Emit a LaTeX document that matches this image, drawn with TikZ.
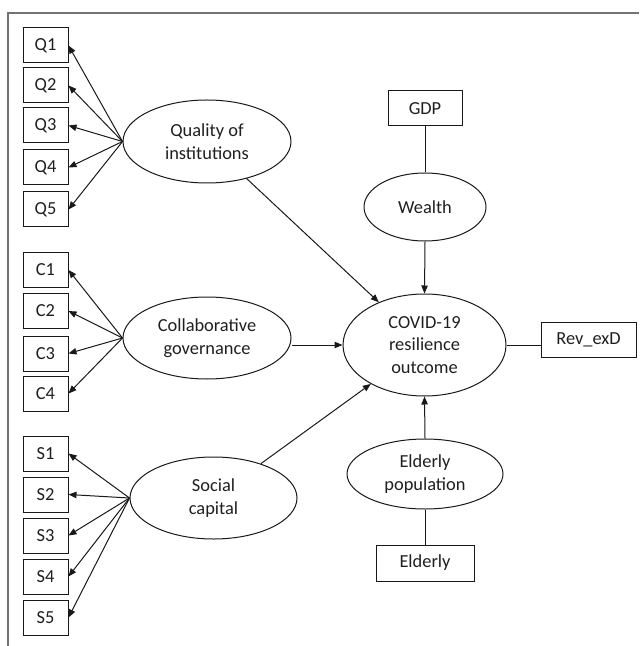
\documentclass[tikz,border=0pt]{standalone}
\usepackage{fontspec}
\setmainfont{Carlito}
\usetikzlibrary{shapes.geometric,arrows.meta}
\begin{document}
\begin{tikzpicture}[x=0.5pt,y=-0.5pt,
  every node/.style={font=\fontsize{9.2pt}{11.2pt}\selectfont, text=black!88, inner sep=0pt},
  ind/.style={draw=black!90, line width=0.5pt, minimum width=22.5pt, minimum height=17.5pt},
  lat/.style={draw=black!90, line width=0.5pt, ellipse, align=center},
  conn/.style={draw=black!90, line width=0.5pt},
  arr/.style={conn, -{Triangle[length=4pt,width=3.2pt]}},
  frame/.style={draw=black!55, line width=0.7pt}]
\useasboundingbox (0,0) rectangle (639,646);
\draw[frame] (8,646) -- (8,13) -- (639,13);
% indicators
\node[ind] (Q1) at (45.5,45.5) {Q1};
\node[ind] (Q2) at (45.5,85.5) {Q2};
\node[ind] (Q3) at (45.5,125.5) {Q3};
\node[ind] (Q4) at (45.5,167.5) {Q4};
\node[ind] (Q5) at (45.5,209.5) {Q5};
\node[ind] (C1) at (45.5,270) {C1};
\node[ind] (C2) at (45.5,311) {C2};
\node[ind] (C3) at (45.5,353.5) {C3};
\node[ind] (C4) at (45.5,393.5) {C4};
\node[ind] (S1) at (45.5,453.5) {S1};
\node[ind] (S2) at (45.5,494.5) {S2};
\node[ind] (S3) at (45.5,535.5) {S3};
\node[ind] (S4) at (45.5,576.5) {S4};
\node[ind] (S5) at (45.5,617.5) {S5};
% latent
\node[lat, minimum width=84pt, minimum height=41.5pt] (qual) at (207,141.5) {Quality of\\institutions};
\node[lat, minimum width=84pt, minimum height=41pt] (collab) at (207,338) {Collaborative\\governance};
\node[lat, minimum width=83.5pt, minimum height=41pt] (social) at (213.5,498) {Social\\capital};
\node[lat, minimum width=61pt, minimum height=34pt] (wealth) at (425,207) {Wealth};
\node[lat, minimum width=81.5pt, minimum height=51pt] (covid) at (424.5,345) {COVID-19\\resilience\\outcome};
\node[lat, minimum width=78pt, minimum height=35pt] (eldpop) at (425,474) {Elderly\\population};
% observed right
\node[ind, minimum width=37pt] (gdp) at (425,108.5) {GDP};
\node[ind, minimum width=47.5pt] (rev) at (588.5,339.5) {Rev\_exD};
\node[ind, minimum width=49pt, minimum height=18pt] (eld) at (425,563) {Elderly};
% loadings
\foreach \i in {Q1,Q2,Q3,Q4,Q5} \draw[arr] (qual.west) -- (\i.east);
\foreach \i in {C1,C2,C3,C4} \draw[arr] (collab.west) -- (\i.east);
\foreach \i in {S1,S2,S3,S4,S5} \draw[arr] (social.west) -- (\i.east);
% structural
\draw[arr] (qual) -- (covid);
\draw[arr] (covid.west -| collab.east) -- (covid.west);
\draw[arr] (social) -- (covid);
\draw[arr] (wealth.south) -- (covid.north);
\draw[arr] (eldpop.north) -- (covid.south);
\draw[conn] (gdp.south) -- (wealth.north);
\draw[conn] (eld.north) -- (eldpop.south);
\draw[conn] (covid.east) -- (covid.east -| rev.west);
\end{tikzpicture}
\end{document}
